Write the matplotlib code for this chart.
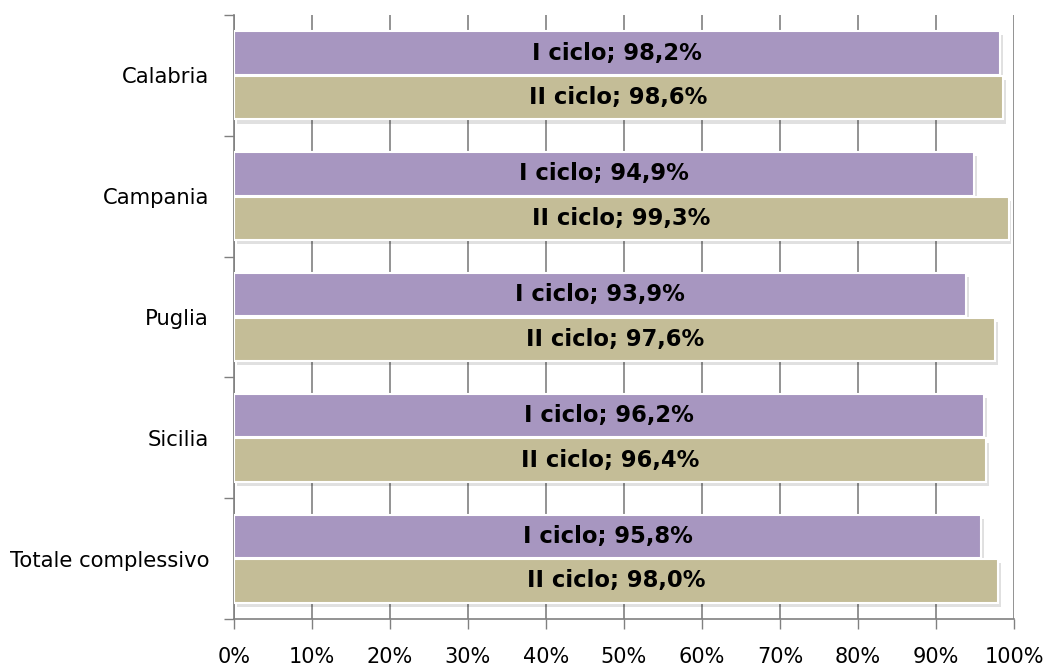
import matplotlib
matplotlib.use("Agg")
import matplotlib.pyplot as plt
import matplotlib.patheffects as pe
import numpy as np

categories = ["Calabria", "Campania", "Puglia", "Sicilia", "Totale complessivo"]
i_ciclo = [98.2, 94.9, 93.9, 96.2, 95.8]
ii_ciclo = [98.6, 99.3, 97.6, 96.4, 98.0]
series_names = ["I ciclo", "II ciclo"]
xticks = list(range(0, 101, 10))

plt.rcParams['font.family'] = ['DejaVu Sans']

fig = plt.figure(figsize=(10.47, 6.7), dpi=100)
ax = fig.add_axes([234/1047, 1-619/670, (1014-234)/1047, (619-15)/670])

y = np.arange(len(categories))
h = 0.36
colors = ["#A796C0", "#C4BD97"]
shadow = [pe.SimplePatchShadow(offset=(2, -3), shadow_rgbFace="#000000", alpha=0.12), pe.Normal()]

for k, (vals, off) in enumerate([(i_ciclo, -0.185), (ii_ciclo, 0.185)]):
    bars = ax.barh(y + off, vals, height=h, color=colors[k], edgecolor="white",
                   linewidth=1.5, zorder=3)
    for b, v in zip(bars, vals):
        b.set_path_effects(shadow)
        txt = f"{series_names[k]}; {v:.1f}%".replace(".", ",")
        ax.text(v / 2, b.get_y() + b.get_height() / 2, txt, ha="center", va="center",
                fontsize=16.3, fontweight="bold", color="black", zorder=4)

ax.set_xlim(0, 100)
ax.set_ylim(len(categories) - 0.5, -0.5)
ax.set_xticks(xticks)
ax.set_xticklabels([f"{t}%" for t in xticks], fontsize=15)
ax.tick_params(axis="x", length=7, width=1, color="#808080", pad=13, direction="out")
ax.set_yticks(y)
ax.set_yticklabels(categories, fontsize=15.2)
ax.tick_params(axis="y", length=0, pad=18)
ax.set_yticks(np.arange(-0.5, len(categories), 1.0), minor=True)
ax.tick_params(axis="y", which="minor", length=7, width=1, color="#808080")

ax.grid(axis="x", color="#808080", linewidth=1.2, zorder=0)
ax.set_axisbelow(True)
for s in ["top", "right"]:
    ax.spines[s].set_visible(False)
for s in ["left", "bottom"]:
    ax.spines[s].set_color("#808080")
    ax.spines[s].set_linewidth(1.2)

fig.savefig("out.png", dpi=100, facecolor="white")
